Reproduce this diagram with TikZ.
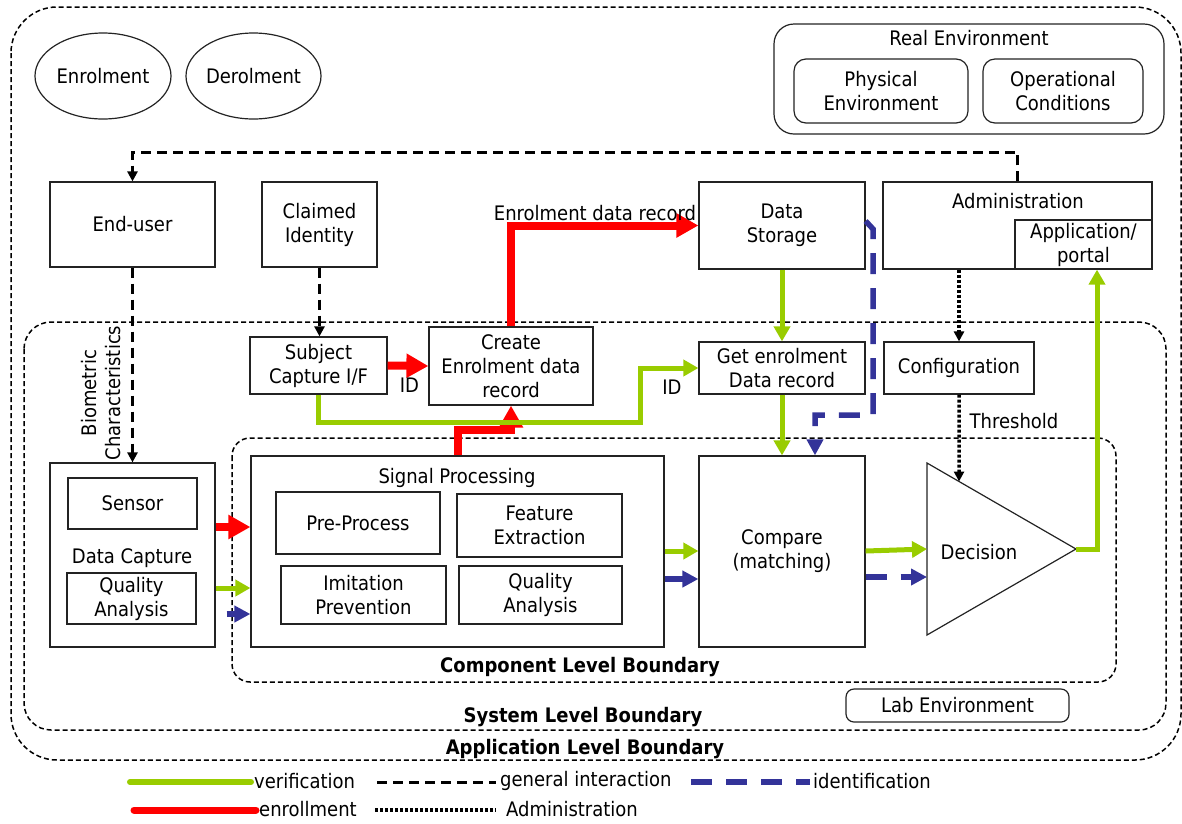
\documentclass[tikz,border=0pt]{standalone}
\usepackage{fontspec}
\setmainfont{DejaVu Sans Condensed}
\usetikzlibrary{arrows.meta,shapes.geometric,calc}
\definecolor{verif}{RGB}{153,204,0}
\definecolor{enrl}{RGB}{255,0,0}
\definecolor{ident}{RGB}{51,51,153}
\definecolor{edge}{RGB}{35,35,35}
\newcommand{\diagfont}{\fontsize{20}{24}\selectfont}

\tikzset{
  base/.style={font=\diagfont, inner sep=0pt, align=center},
  box/.style={base, draw=edge, line width=1.2pt, fill=white},
  boundary/.style={draw=black, line width=1.5pt, dash pattern=on 5pt off 3pt},
  bndlabel/.style={base, font=\diagfont\bfseries},
  gen/.style={line width=3pt, dash pattern=on 10pt off 6pt, -{Triangle[length=10pt,width=10pt]}},
  adm/.style={line width=3.5pt, dash pattern=on 3pt off 2pt, -{Triangle[length=10pt,width=10pt]}},
  ver/.style={verif, line width=5pt, -{Triangle[length=15pt,width=16pt]}},
  enr/.style={enrl, line width=8pt, -{Triangle[length=22pt,width=23pt]}},
  idf/.style={ident, line width=5.5pt, dash pattern=on 21pt off 14pt, -{Triangle[length=16pt,width=16pt]}},
  idfs/.style={ident, line width=5.5pt, -{Triangle[length=16pt,width=16pt]}},
}

\begin{document}
\begin{tikzpicture}[x=1pt, y=-1pt]
\useasboundingbox (0,0) rectangle (1182,823);

% --- boundaries ---
\draw[boundary, rounded corners=46pt] (11,7) rectangle (1181,760);
\draw[boundary, rounded corners=27pt] (24,322) rectangle (1166,730);
\draw[boundary, rounded corners=18pt] (232,438) rectangle (1116,682);
\node[bndlabel] (lblcomp) at (580,667) {Component Level Boundary};
\node[bndlabel] (lblsys) at (583,717) {System Level Boundary};
\node[bndlabel] (lblapp) at (585,749) {Application Level Boundary};

% --- top row ---
\node[base, draw=edge, line width=1.2pt, ellipse, minimum width=136pt, minimum height=86pt] (enrol) at (103,76) {Enrolment};
\node[base, draw=edge, line width=1.2pt, ellipse, minimum width=135pt, minimum height=86pt] (derol) at (253.5,76) {Derolment};

\node[box, rounded corners=20pt, minimum width=390pt, minimum height=110pt] (realenv) at (969,79) {};
\node[base] (realenvlbl) at (969,38) {Real Environment};
\node[box, rounded corners=12pt, minimum width=174pt, minimum height=64pt] (phys) at (881,91) {Physical\\Environment};
\node[box, rounded corners=12pt, minimum width=160pt, minimum height=64pt] (oper) at (1063,91) {Operational\\Conditions};

% --- upper blocks ---
\node[box, minimum width=165pt, minimum height=85pt] (enduser) at (132.5,224.5) {End-user};
\node[box, minimum width=115pt, minimum height=85pt] (claimed) at (319.5,224.5) {Claimed\\Identity};
\node[box, minimum width=166pt, minimum height=87pt] (storage) at (782,225.5) {Data\\Storage};
\node[box, minimum width=269pt, minimum height=87pt] (admin) at (1017.5,225.5) {};
\node[base] (adminlbl) at (1018,201) {Administration};
\node[box, minimum width=137pt, minimum height=49pt] (portal) at (1083.5,244.5) {Application/\\portal};

% --- system level blocks ---
\node[box, minimum width=137pt, minimum height=57pt] (subject) at (318.5,365.5) {Subject\\Capture I/F};
\node[box, minimum width=164pt, minimum height=78pt] (create) at (511,366) {Create\\Enrolment data\\record};
\node[box, minimum width=166pt, minimum height=52pt] (getrec) at (782,368) {Get enrolment\\Data record};
\node[box, minimum width=150pt, minimum height=52pt] (config) at (959,368) {Configuration};
\node[base, rotate=90] (biochar) at (101,393) {Biometric\\Characteristics};

% --- data capture ---
\node[box, minimum width=165pt, minimum height=184pt] (datacap) at (132.5,555) {};
\node[base] (datacaplbl) at (132,558) {Data Capture};
\node[box, minimum width=129pt, minimum height=51pt] (sensor) at (132.5,503.5) {Sensor};
\node[box, minimum width=129pt, minimum height=51pt] (qa1) at (131.5,598.5) {Quality\\Analysis};

% --- signal processing ---
\node[box, minimum width=413pt, minimum height=191pt] (sigproc) at (457.5,551.5) {};
\node[base] (sigproclbl) at (457,478) {Signal Processing};
\node[box, minimum width=164pt, minimum height=62pt] (preproc) at (358,523) {Pre-Process};
\node[box, minimum width=165pt, minimum height=63pt] (featext) at (539.5,525.5) {Feature\\Extraction};
\node[box, minimum width=165pt, minimum height=58pt] (imit) at (363.5,595) {Imitation\\Prevention};
\node[box, minimum width=163pt, minimum height=58pt] (qa2) at (540.5,595) {Quality\\Analysis};

% --- compare and decision ---
\node[box, minimum width=166pt, minimum height=191pt] (compare) at (782,551.5) {Compare\\(matching)};
\coordinate (dtl) at (927,463);
\coordinate (dbl) at (927,635);
\coordinate (dtip) at (1076,549);
\coordinate (dthr) at ($(dtl)!0.215!(dtip)$);
\draw[draw=edge, line width=1.2pt, fill=white] (dtl) -- (dtip) -- (dbl) -- cycle;
\node[base] (decision) at (979,552) {Decision};

\node[box, rounded corners=8pt, minimum width=223pt, minimum height=33pt] (labenv) at (957.5,705.5) {Lab Environment};

% --- routing levels ---
\coordinate (ytop) at (0,152);
\coordinate (yvsub) at (640,422);
\coordinate (yvin) at (0,588);
\coordinate (yvcmp) at (0,551);
\coordinate (yrin) at (0,527);
\coordinate (yrsp) at (0,430);
\coordinate (ybin) at (0,614);
\coordinate (ybcmp) at (0,579);
\coordinate (ybdec) at (0,577);
\coordinate (i1) at (873,229);
\coordinate (i2) at (873,415);
\coordinate (i3) at (815,415);

% --- general interaction ---
\draw[gen] (admin.north) -- (admin.north |- ytop) -| (enduser.north);
\draw[gen] (enduser.south) -- (datacap.north);
\draw[gen] (claimed.south) -- (claimed.south |- subject.north);

% --- administration ---
\draw[adm] (config.north |- admin.south) -- (config.north);
\draw[adm] (config.south) -- (dthr);
\node[base] (lblthr) at (1014,421) {Threshold};

% --- enrollment ---
\draw[enr] (create.north) |- (storage.west);
\draw[enr] (subject.east) -- (create.west);
\draw[enr] (sigproc.north) -- (sigproc.north |- yrsp) -| (create.south);
\draw[enr] (datacap.east |- yrin) -- (sigproc.west |- yrin);
\node[base] (lblrec) at (595,213) {Enrolment data record};
\node[base] (lblid1) at (409.5,385) {ID};

% --- verification ---
\draw[ver] (storage.south) -- (getrec.north);
\draw[ver] (getrec.south) -- (compare.north);
\draw[ver] (subject.south) |- (yvsub) |- (getrec.west);
\draw[ver] (datacap.east |- yvin) -- (sigproc.west |- yvin);
\draw[ver] (sigproc.east |- yvcmp) -- (compare.west |- yvcmp);
\draw[ver] (compare.east |- yvcmp) -- ($(dtl |- yvcmp)+(0,-2)$);
\draw[ver] (dtip) -| ($(portal.south)+(13.5,0)$);
\node[base] (lblid2) at (672,387) {ID};

% --- identification ---
\draw[idf] ($(storage.east)+(0,-4.5)$) -- (i1) -- (i2) -- (i3) -- (i3 |- compare.north);
\draw[idfs] ($(datacap.east |- ybin)+(11,0)$) -- (sigproc.west |- ybin);
\draw[idfs] (sigproc.east |- ybcmp) -- (compare.west |- ybcmp);
\draw[idf] (compare.east |- ybdec) -- (dtl |- ybdec);

% --- legend ---
\draw[verif, line width=6pt, line cap=round] (130,782) -- (251,782);
\node[base, anchor=west] (legver) at (254,781) {verification};
\draw[line width=3pt, dash pattern=on 10pt off 6pt] (377,782) -- (496,782);
\node[base, anchor=west] (leggen) at (500,781) {general interaction};
\draw[ident, line width=5.5pt, dash pattern=on 21pt off 14pt] (691,782) -- (810,782);
\node[base, anchor=west] (legid) at (813,781) {identification};
\draw[enrl, line width=7pt, line cap=round] (134,810) -- (256,810);
\node[base, anchor=west] (legenr) at (259,809) {enrollment};
\draw[line width=3.5pt, dash pattern=on 3pt off 2pt] (375,810) -- (496,810);
\node[base, anchor=west] (legadm) at (506,809) {Administration};
\end{tikzpicture}
\end{document}
